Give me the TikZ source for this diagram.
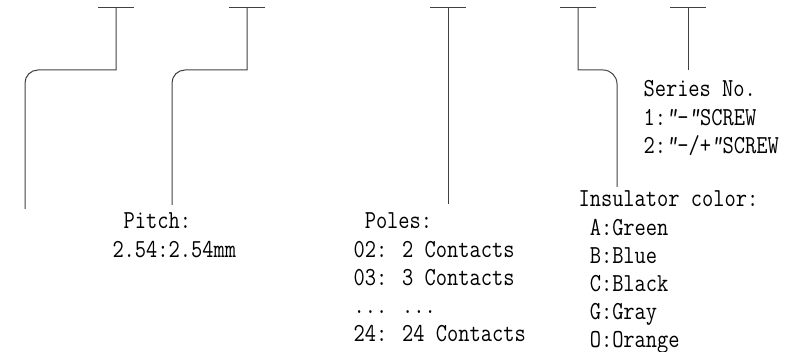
\documentclass[tikz,border=0pt]{standalone}
\usepackage{graphicx}
\newcommand{\lbltab}[1]{\scalebox{0.91}[1.08]{\begin{tabular}[t]{@{}l@{}}#1\end{tabular}}}
\newcommand{\qm}{{\slshape"}}
\begin{document}
\begin{tikzpicture}[x=1pt, y=-1pt, line width=1pt,
    lead/.style={draw=black!75},
    txt/.style={anchor=base west, inner sep=0pt, font=\fontsize{24}{26}\selectfont\ttfamily}]
    \useasboundingbox (0,0) rectangle (808,352);

    % tops of the code fields
    \coordinate (pre) at (116,8);
    \coordinate (pitch) at (247,8);
    \coordinate (poles) at (448,8);
    \coordinate (color) at (578,8);
    \coordinate (series) at (688,8);
    \foreach \t in {pre,pitch,poles,color,series}
        \draw[lead] (\t) +(-18,0) -- +(18,0);

    % free ends of the leaders
    \coordinate (preend) at (25,209);
    \coordinate (pitchend) at (172,205);
    \coordinate (polesend) at (448,204);
    \coordinate (colorend) at (617,187);
    \coordinate (seriesend) at (688,70);

    % texts
    \node[txt] (pitchtxt) at (112,229) {\lbltab{\ Pitch:\\2.54:2.54mm}};
    \node[txt] (polestxt) at (353,229) {\lbltab{\ Poles:\\02: 2 Contacts\\03: 3 Contacts\\... ...\\24: 24 Contacts}};
    \node[txt] (colortxt) at (578,207) {\lbltab{Insulator color:\\\ A:Green\\\ B:Blue\\\ C:Black\\\ G:Gray\\\ O:Orange}};
    \node[txt] (seriestxt) at (643,97) {\lbltab{Series No.\\1:\qm-\qm SCREW\\2:\qm-/+\qm SCREW}};

    % leaders
    \draw[lead] (pre) -- (116,70) [rounded corners=13pt] -- (25,70) -- (preend);
    \draw[lead] (pitch) -- (247,70) [rounded corners=13pt] -- (172,70) -- (pitchend);
    \draw[lead] (poles) -- (polesend);
    \draw[lead] (color) -- (578,70) [rounded corners=14pt] -- (617,70) -- (colorend);
    \draw[lead] (series) -- (seriesend);

\end{tikzpicture}
\end{document}
